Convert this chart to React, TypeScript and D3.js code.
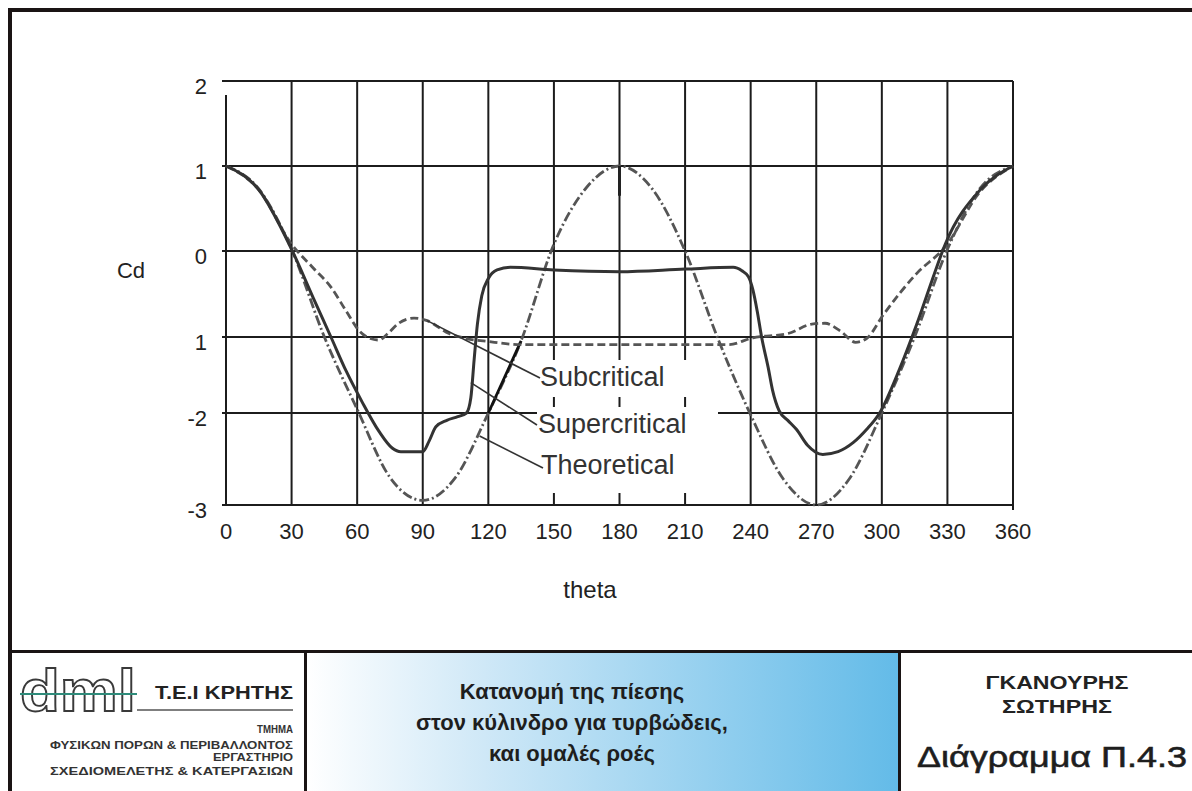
import React from "react";
import * as d3 from "d3";

// Angle around the cylinder (degrees) and pressure coefficient ticks
const thetaTicks = [0, 30, 60, 90, 120, 150, 180, 210, 240, 270, 300, 330, 360];
const cdTicks = [2, 1, 0, -1, -2, -3];
const cdTickLabels = ["2", "1", "0", "1", "-2", "-3"];

// Ideal potential-flow distribution
const theoretical: [number, number][] = [
  [0, 1], [15, 0.73], [30, 0.02], [45, -1], [60, -1.95], [75, -2.7], [90, -2.95],
  [105, -2.7], [120, -2], [135, -1.05], [150, 0.08], [165, 0.75], [180, 1],
  [195, 0.73], [210, 0], [225, -1.02], [240, -2.02], [255, -2.72], [270, -3],
  [285, -2.72], [300, -2], [315, -1], [330, 0.02], [345, 0.74], [360, 1],
];

// Laminar separation (subcritical Reynolds number)
const subcritical: [number, number][] = [
  [0, 1], [15, 0.72], [30, 0.08], [40, -0.2], [48, -0.42], [55, -0.7], [61, -0.93],
  [66, -1.02], [70, -1.04], [74, -0.96], [79, -0.84], [86, -0.78], [92, -0.81],
  [102, -0.96], [110, -1.02], [120, -1.06], [135, -1.1], [180, -1.1], [230, -1.1],
  [241, -1.01], [257, -0.96], [268, -0.85], [274, -0.84], [281, -0.93], [288, -1.07],
  [293, -1.02], [301, -0.73], [316, -0.26], [329, 0.05], [345, 0.7], [360, 1],
];

// Turbulent separation (supercritical Reynolds number)
const supercritical: [number, number][] = [
  [0, 1], [15, 0.72], [30, 0.02], [40, -0.55], [48, -1.0], [55, -1.45], [62, -1.84],
  [70, -2.2], [76, -2.38], [80, -2.42], [90, -2.42], [93, -2.3], [96, -2.15],
  [101, -2.08], [106, -2.04], [110, -2.0], [112, -1.8], [113.5, -1.3], [115, -0.85],
  [117, -0.52], [120, -0.32], [124, -0.22], [130, -0.19], [150, -0.22], [180, -0.24],
  [210, -0.21], [232, -0.19], [236, -0.23], [239, -0.3], [241, -0.45], [243, -0.7],
  [245, -1.0], [248, -1.4], [250, -1.7], [253, -1.97], [257, -2.08], [261, -2.18],
  [266, -2.35], [273, -2.45], [280, -2.42], [287, -2.32], [293, -2.18], [299, -2.0],
  [308, -1.43], [316, -0.85], [323, -0.34], [329, 0.08], [345, 0.72], [360, 1],
];

const seriesNames = ["Subcritical", "Supercritical", "Theoretical"];
// Points on each curve where the callout lines start
const leaderAnchors: [number, number][] = [[92, -0.81], [112, -1.6], [116, -2.25]];

const instituteLines = [
  "ΤΜΗΜΑ",
  "ΦΥΣΙΚΩΝ ΠΟΡΩΝ & ΠΕΡΙΒΑΛΛΟΝΤΟΣ",
  "ΕΡΓΑΣΤΗΡΙΟ",
  "ΣΧΕΔΙΟΜΕΛΕΤΗΣ & ΚΑΤΕΡΓΑΣΙΩΝ",
];
const titleLines = ["Κατανομή της πίεσης", "στον κύλινδρο για τυρβώδεις,", "και ομαλές ροές"];
const authorLines = ["ΓΚΑΝΟΥΡΗΣ", "ΣΩΤΗΡΗΣ"];
const diagramId = "Διάγραμμα Π.4.3";

const FONT = "'Liberation Sans', Arial, Helvetica, sans-serif";
const W = 1192;
const H = 791;

export default function App() {
  const x = d3.scaleLinear().domain([0, 360]).range([226, 1013]);
  const y = d3.scaleLinear().domain([-3, -2, -1, 0, 1, 2]).range([505, 413, 337, 251, 166, 81]);

  const line = d3
    .line<[number, number]>()
    .x((d) => x(d[0]))
    .y((d) => y(d[1]))
    .curve(d3.curveMonotoneX);

  const gridColor = "#1c1c1c";
  const darkSeg = theoretical.filter((d) => d[0] >= 120 && d[0] <= 135);

  const labelPos = [
    { x: 540, y: 386, lx: 540, ly: 378 },
    { x: 538, y: 433, lx: 537, ly: 425 },
    { x: 541, y: 474, lx: 543, ly: 468 },
  ];
  const boxes = [
    { x: 537, y: 360, w: 170, h: 37 },
    { x: 537, y: 407, w: 181, h: 42 },
    { x: 537, y: 449, w: 170, h: 44 },
  ];

  const instWidths = [36, 243, 80, 243];
  const instY = [733, 749, 761, 775];
  const authorWidths = [143, 110];

  return (
    <svg
      width={W}
      height={H}
      style={{ position: "absolute", left: 0, top: 0, background: "#fff" }}
      fontFamily={FONT}
    >
      <defs>
        <linearGradient id="titleFill" x1="0" y1="0" x2="1" y2="0">
          <stop offset="0" stopColor="#ffffff" />
          <stop offset="0.3" stopColor="#cfe8f7" />
          <stop offset="1" stopColor="#63bbe8" />
        </linearGradient>
      </defs>

      {/* grid */}
      {thetaTicks.map((t) => (
        <line
          key={"v" + t}
          x1={x(t)}
          x2={x(t)}
          y1={t === 0 ? y(2) + 14 : y(2)}
          y2={y(-3) + (t === 360 ? 5 : 0)}
          stroke={gridColor}
          strokeWidth={2}
        />
      ))}
      {cdTicks.map((c) => (
        <line
          key={"h" + c}
          x1={x(0) - 4}
          x2={x(360)}
          y1={y(c)}
          y2={y(c)}
          stroke={gridColor}
          strokeWidth={2}
        />
      ))}

      {/* label backgrounds */}
      {boxes.map((b, i) => (
        <rect key={"b" + i} x={b.x} y={b.y} width={b.w} height={b.h} fill="#fff" />
      ))}

      {/* curves */}
      <path
        d={line(theoretical) || ""}
        fill="none"
        stroke="#555"
        strokeWidth={2.8}
        strokeDasharray="10,3,2,3"
      />
      <path d={line(darkSeg) || ""} fill="none" stroke="#111" strokeWidth={2.8} />
      <line x1={x(180)} x2={x(180)} y1={y(1)} y2={y(0.65)} stroke="#222" strokeWidth={3} />
      <path
        d={line(subcritical) || ""}
        fill="none"
        stroke="#555"
        strokeWidth={2.8}
        strokeDasharray="8,4"
      />
      <path d={line(supercritical) || ""} fill="none" stroke="#333" strokeWidth={3} />

      {/* callouts */}
      {seriesNames.map((name, i) => (
        <g key={name}>
          <line
            x1={x(leaderAnchors[i][0])}
            y1={y(leaderAnchors[i][1])}
            x2={labelPos[i].lx}
            y2={labelPos[i].ly}
            stroke="#333"
            strokeWidth={1.6}
          />
          <text x={labelPos[i].x} y={labelPos[i].y} fontSize={27} fill="#333">
            {name}
          </text>
        </g>
      ))}

      {/* tick labels */}
      {thetaTicks.map((t) => (
        <text key={"tx" + t} x={x(t)} y={539} fontSize={22} textAnchor="middle" fill="#222">
          {t}
        </text>
      ))}
      {cdTicks.map((c, i) => (
        <text key={"ty" + c} x={207} y={y(c) + 13} fontSize={22} textAnchor="end" fill="#222">
          {cdTickLabels[i]}
        </text>
      ))}
      <text x={131} y={278} fontSize={22} textAnchor="middle" fill="#222">
        Cd
      </text>
      <text x={590} y={598} fontSize={24} textAnchor="middle" fill="#222">
        theta
      </text>

      {/* frame */}
      <rect x={8} y={8} width={W - 8} height={4} fill="#1a1414" />
      <rect x={8} y={8} width={4} height={H - 8} fill="#1a1414" />
      <rect x={307} y={653} width={591} height={H - 653} fill="url(#titleFill)" />
      <rect x={8} y={650} width={W - 8} height={3} fill="#1a1414" />
      <rect x={304} y={651} width={3} height={H - 651} fill="#1a1414" />
      <rect x={898} y={651} width={3} height={H - 651} fill="#1a1414" />

      {/* logo block */}
      <text
        x={20}
        y={711}
        fontSize={60}
        fontWeight="bold"
        fill="#fff"
        stroke="#3a3a3a"
        strokeWidth={1.8}
        textLength={116}
        lengthAdjust="spacingAndGlyphs"
      >
        dml
      </text>
      <line x1={20} x2={137} y1={694} y2={694} stroke="#2e8b7a" strokeWidth={2} />
      <line x1={137} x2={293} y1={710} y2={710} stroke="#555" strokeWidth={1.5} />
      <text
        x={155}
        y={699}
        fontSize={18}
        fontWeight="bold"
        fill="#222"
        textLength={138}
        lengthAdjust="spacingAndGlyphs"
      >
        T.E.I ΚΡΗΤΗΣ
      </text>
      {instituteLines.map((s, i) => (
        <text
          key={s}
          x={293 - instWidths[i]}
          y={instY[i]}
          fontSize={11}
          fontWeight="bold"
          fill="#333"
          textLength={instWidths[i]}
          lengthAdjust="spacingAndGlyphs"
        >
          {s}
        </text>
      ))}

      {/* title */}
      {titleLines.map((s, i) => (
        <text key={s} x={572} y={699 + i * 31} fontSize={22} fontWeight="bold" textAnchor="middle" fill="#1e1e1e">
          {s}
        </text>
      ))}

      {/* author and diagram id */}
      {authorLines.map((s, i) => (
        <text
          key={s}
          x={1057 - authorWidths[i] / 2}
          y={689 + i * 24}
          fontSize={19}
          fontWeight="bold"
          fill="#222"
          textLength={authorWidths[i]}
          lengthAdjust="spacingAndGlyphs"
        >
          {s}
        </text>
      ))}
      <text
        x={917}
        y={767}
        fontSize={30}
        fill="#1e1e1e"
        stroke="#1e1e1e"
        strokeWidth={0.6}
        textLength={270}
        lengthAdjust="spacingAndGlyphs"
      >
        {diagramId}
      </text>
    </svg>
  );
}
